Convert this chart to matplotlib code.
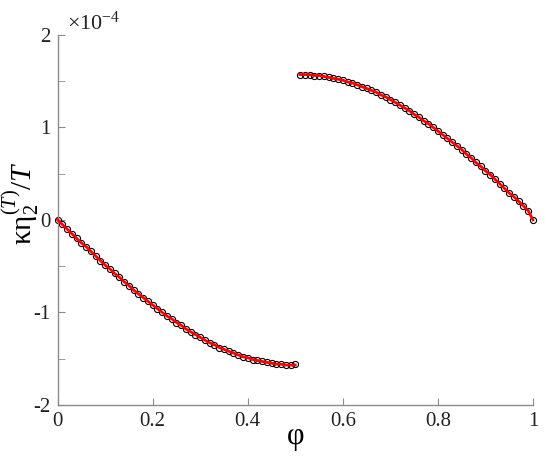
import matplotlib.pyplot as plt
from matplotlib.ticker import FixedLocator

plt.rcParams["font.family"] = ["Liberation Serif", "DejaVu Serif"]
plt.rcParams["mathtext.fontset"] = "custom"
plt.rcParams["mathtext.rm"] = "Liberation Serif"
plt.rcParams["mathtext.it"] = "Liberation Serif:italic"
plt.rcParams["axes.unicode_minus"] = False

# phi values (step 0.01) and kappa*eta_2^(T)/T in units of 1e-4
PHI_LEFT = [i / 100 for i in range(0, 51)]
VAL_LEFT = [
    0.00, -0.05, -0.10, -0.15, -0.20, -0.25, -0.29, -0.34, -0.39, -0.44,
    -0.49, -0.53, -0.58, -0.62, -0.67, -0.71, -0.76, -0.80, -0.84, -0.88,
    -0.92, -0.96, -1.00, -1.04, -1.07, -1.11, -1.14, -1.18, -1.21, -1.24,
    -1.27, -1.30, -1.33, -1.35, -1.38, -1.40, -1.42, -1.44, -1.46, -1.48,
    -1.49, -1.51, -1.52, -1.53, -1.54, -1.55, -1.56, -1.56, -1.57, -1.57,
    -1.57,
]
MARK_LEFT = VAL_LEFT[:-1] + [-1.555]

PHI_RIGHT = [i / 100 for i in range(51, 101)]
VAL_RIGHT = [
    1.57, 1.57, 1.57, 1.56, 1.56, 1.55, 1.54, 1.53, 1.52, 1.51,
    1.49, 1.48, 1.46, 1.44, 1.42, 1.40, 1.38, 1.35, 1.33, 1.30,
    1.27, 1.24, 1.21, 1.18, 1.14, 1.11, 1.07, 1.04, 1.00, 0.96,
    0.92, 0.88, 0.84, 0.80, 0.76, 0.71, 0.67, 0.62, 0.58, 0.53,
    0.49, 0.44, 0.39, 0.34, 0.29, 0.25, 0.20, 0.15, 0.10, 0.00,
]
MARK_RIGHT = VAL_RIGHT

X_TICKS = [0, 0.2, 0.4, 0.6, 0.8, 1.0]
X_TICK_LABELS = ["0", "0.2", "0.4", "0.6", "0.8", "1"]
Y_TICKS = [-2, -1, 0, 1, 2]
Y_MINOR = [-1.5, -0.5, 0.5, 1.5]

SPINE = "#8c8c8c"

fig = plt.figure(figsize=(5.54, 4.58), dpi=100)
ax = fig.add_axes([0.104, 0.116, 0.858, 0.808])

for phi, mark, val in [(PHI_LEFT, MARK_LEFT, VAL_LEFT), (PHI_RIGHT, MARK_RIGHT, VAL_RIGHT)]:
    ax.plot(phi, mark, linestyle="none", marker="o", markersize=4.4,
            markerfacecolor="none", markeredgecolor="black", markeredgewidth=0.8,
            zorder=2, clip_on=False)
    ax.plot(phi, val, color="red", linewidth=2.0, zorder=3, clip_on=False)

ax.set_xlim(0, 1.0)
ax.set_ylim(-2, 2)
ax.set_xticks(X_TICKS)
ax.set_xticklabels(X_TICK_LABELS)
ax.set_yticks(Y_TICKS)
ax.yaxis.set_minor_locator(FixedLocator(Y_MINOR))

for side in ["top", "right"]:
    ax.spines[side].set_visible(False)
for side in ["left", "bottom"]:
    ax.spines[side].set_color(SPINE)
    ax.spines[side].set_linewidth(1.0)

ax.tick_params(axis="both", which="both", direction="in", color=SPINE,
               labelsize=15, labelcolor="#222222", pad=5)
ax.tick_params(axis="both", which="major", length=5)
ax.tick_params(axis="y", which="minor", length=5)

ax.set_xlabel("φ", fontsize=22, labelpad=-6)
ax.set_ylabel(r"κη$_2^{(T)}$/$T$", fontsize=21)
ax.yaxis.set_label_coords(-0.035, 0.545)

ax.text(0.02, 1.0, r"×10$^{-4}$", transform=ax.transAxes, fontsize=16,
        ha="left", va="bottom", color="#222222")

fig.savefig("out.png", dpi=100)
